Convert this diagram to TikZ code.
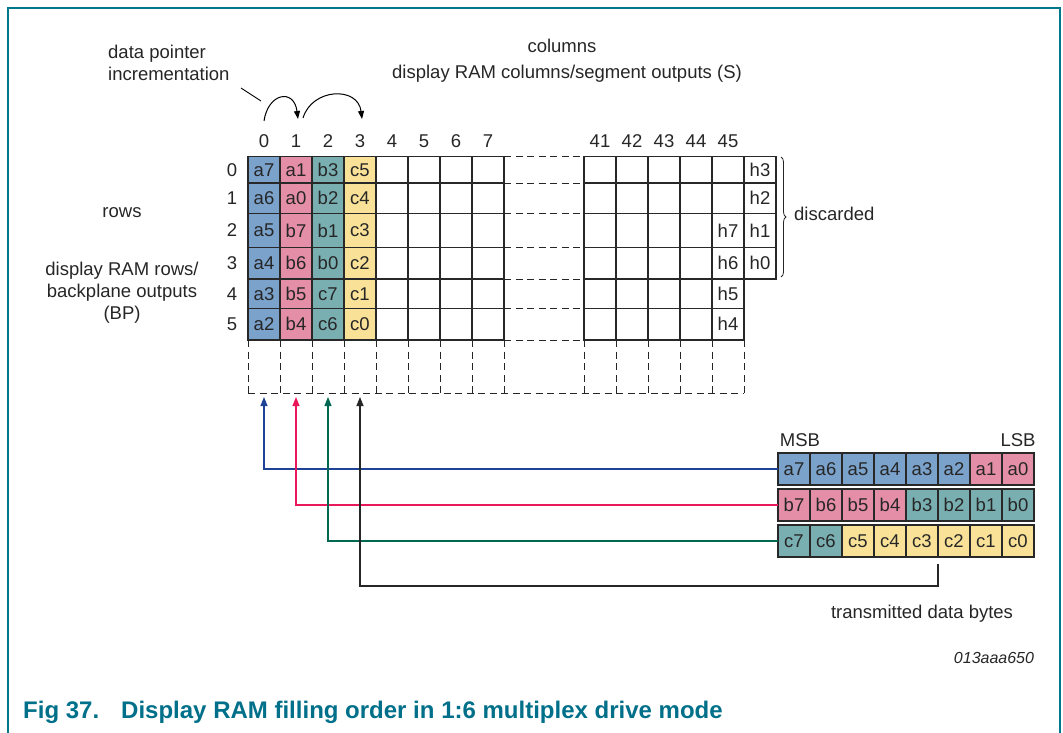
\documentclass[tikz,border=0pt]{standalone}
\usepackage{fontspec}
\setmainfont{Liberation Sans}
\usetikzlibrary{arrows.meta,decorations.pathreplacing}
\definecolor{cblue}{RGB}{122,162,203}
\definecolor{cpink}{RGB}{229,142,167}
\definecolor{cteal}{RGB}{122,175,178}
\definecolor{cyel}{RGB}{249,226,152}
\definecolor{gridc}{RGB}{40,40,40}
\definecolor{lblue}{RGB}{30,66,150}
\definecolor{lred}{RGB}{232,24,90}
\definecolor{lgreen}{RGB}{0,104,80}
\definecolor{frame}{RGB}{0,120,140}
\definecolor{capc}{RGB}{0,112,138}
\begin{document}
\begin{tikzpicture}[x=1pt,y=-1pt,
  cell/.style={draw=gridc, line width=1.1pt, inner sep=0pt, outer sep=0pt, minimum width=32, font=\fontsize{18.5}{20}\selectfont, text=black!85},
  lbl/.style={inner sep=0pt, font=\fontsize{18.5}{22}\selectfont, text=black!85},
  dashline/.style={draw=black!85, line width=1pt, dash pattern=on 7pt off 4.5pt},
  conn/.style={line width=1.2pt, -{Triangle[length=9pt,width=7pt]}},
  ptr/.style={line width=1pt, -{Triangle[length=8pt,width=6pt]}}]
\useasboundingbox (0,0) rectangle (1063,733);
% frame
\draw[frame, line width=1.5pt] (8,734) -- (8,8) -- (1060,8) -- (1060,734);
% grid rows
\foreach \r/\t/\b/\A/\B/\C/\D/\H in {0/156.5/183/a7/a1/b3/c5/, 1/183/213.5/a6/a0/b2/c4/, 2/213.5/247.5/a5/b7/b1/c3/h7, 3/247.5/279/a4/b6/b0/c2/h6, 4/279/308.5/a3/b5/c7/c1/h5, 5/308.5/340/a2/b4/c6/c0/h4}{
  \pgfmathsetmacro\ym{(\t+\b)/2}
  \pgfmathsetmacro\hh{\b-\t}
  \node[cell, fill=cblue, minimum height=\hh] (m-\r-0) at (264,\ym) {\A};
  \node[cell, fill=cpink, minimum height=\hh] (m-\r-1) at (296,\ym) {\B};
  \node[cell, fill=cteal, minimum height=\hh] (m-\r-2) at (328,\ym) {\C};
  \node[cell, fill=cyel, minimum height=\hh] (m-\r-3) at (360,\ym) {\D};
  \foreach \c in {4,...,7}
    \node[cell, minimum height=\hh] (m-\r-\c) at ({248+32*\c+16},\ym) {};
  \foreach \c in {41,...,44}
    \node[cell, minimum height=\hh] (m-\r-\c) at ({584+32*(\c-41)+16},\ym) {};
  \node[cell, minimum height=\hh] (m-\r-45) at (728,\ym) {\H};
  \node[lbl] (rl-\r) at (232,\ym) {\r};
}
\foreach \r/\t/\b/\H in {0/156.5/183/h3, 1/183/213.5/h2, 2/213.5/247.5/h1, 3/247.5/279/h0}{
  \pgfmathsetmacro\ym{(\t+\b)/2}
  \pgfmathsetmacro\hh{\b-\t}
  \node[cell, minimum height=\hh] (m-\r-46) at (760,\ym) {\H};
}
% column labels
\foreach \c in {0,...,7}
  \node[lbl] (cl-\c) at ({264+32*\c},141) {\c};
\foreach \c in {41,...,45}
  \node[lbl] (cl-\c) at ({600+32*(\c-41)},141) {\c};
% dashed gap
\foreach \y in {156.5,183,213.5,247.5,279,308.5,340}
  \draw[dashline] (504,\y) -- (584,\y);
\foreach \x in {248,280,...,504}
  \draw[dashline] (\x,340) -- (\x,393);
\foreach \x in {584,616,...,744}
  \draw[dashline] (\x,340) -- (\x,393);
\draw[dashline] (248,393) -- (744,393);
% brace
\draw[decorate, decoration={brace, amplitude=5pt}, line width=0.8pt, black!85] (781,157) -- (781,277);
\node[lbl, anchor=west] (disc) at (794,214) {discarded};
% texts
\node[lbl, align=left, anchor=west] (dpi) at (108,63) {data pointer\\incrementation};
\node[lbl] (colt) at (562,46) {columns};
\node[lbl] (cols) at (567,74) {display RAM columns/segment outputs (S)};
\node[lbl] (rowt) at (122,213) {rows};
\node[lbl, align=center] (rows) at (122,293) {display RAM rows/\\backplane outputs\\(BP)};
% pointer arrows
\coordinate (k0) at (241,88);
\coordinate (k1) at (261,101);
\draw[line width=0.9pt] (k0) -- (k1);
\coordinate (s0) at (264,121);
\coordinate (e0) at (298,119);
\coordinate (s1) at (303,118);
\coordinate (e1) at (362,119);
\draw[ptr] (s0) .. controls (268,93) and (294,88) .. (e0);
\draw[ptr] (s1) .. controls (312,88) and (358,86) .. (e1);
% bytes
\node[lbl] (msb) at (800,440) {MSB};
\node[lbl] (lsb) at (1018,440) {LSB};
\foreach \i/\txt/\col in {0/a7/cblue,1/a6/cblue,2/a5/cblue,3/a4/cblue,4/a3/cblue,5/a2/cblue,6/a1/cpink,7/a0/cpink}
  \node[cell, fill=\col, minimum height=32] (ba\i) at ({794+32*\i},469) {\txt};
\foreach \i/\txt/\col in {0/b7/cpink,1/b6/cpink,2/b5/cpink,3/b4/cpink,4/b3/cteal,5/b2/cteal,6/b1/cteal,7/b0/cteal}
  \node[cell, fill=\col, minimum height=32] (bb\i) at ({794+32*\i},505) {\txt};
\foreach \i/\txt/\col in {0/c7/cteal,1/c6/cteal,2/c5/cyel,3/c4/cyel,4/c3/cyel,5/c2/cyel,6/c1/cyel,7/c0/cyel}
  \node[cell, fill=\col, minimum height=32] (bc\i) at ({794+32*\i},541) {\txt};
% connectors
\coordinate (p0) at (264,397);
\coordinate (p1) at (296,397);
\coordinate (p2) at (328,397);
\coordinate (p3) at (360,397);
\coordinate (q) at (360,586);
\draw[conn, lblue] (ba0.west) -| (p0);
\draw[conn, lred] (bb0.west) -| (p1);
\draw[conn, lgreen] (bc0.west) -| (p2);
\draw[conn, black!85] ([yshift=-7pt]bc5.south west) |- (q) -- (p3);
\node[lbl] (tdb) at (922,614) {transmitted data bytes};
\node[lbl, font=\fontsize{16}{18}\selectfont\itshape] (code) at (994,658) {013aaa650};
% caption
\node[anchor=west, inner sep=0pt, text=capc, font=\fontsize{24}{26}\selectfont\bfseries] (cap) at (23,712) {Fig 37.\hspace{22pt}Display RAM filling order in 1:6 multiplex drive mode};
\end{tikzpicture}
\end{document}
